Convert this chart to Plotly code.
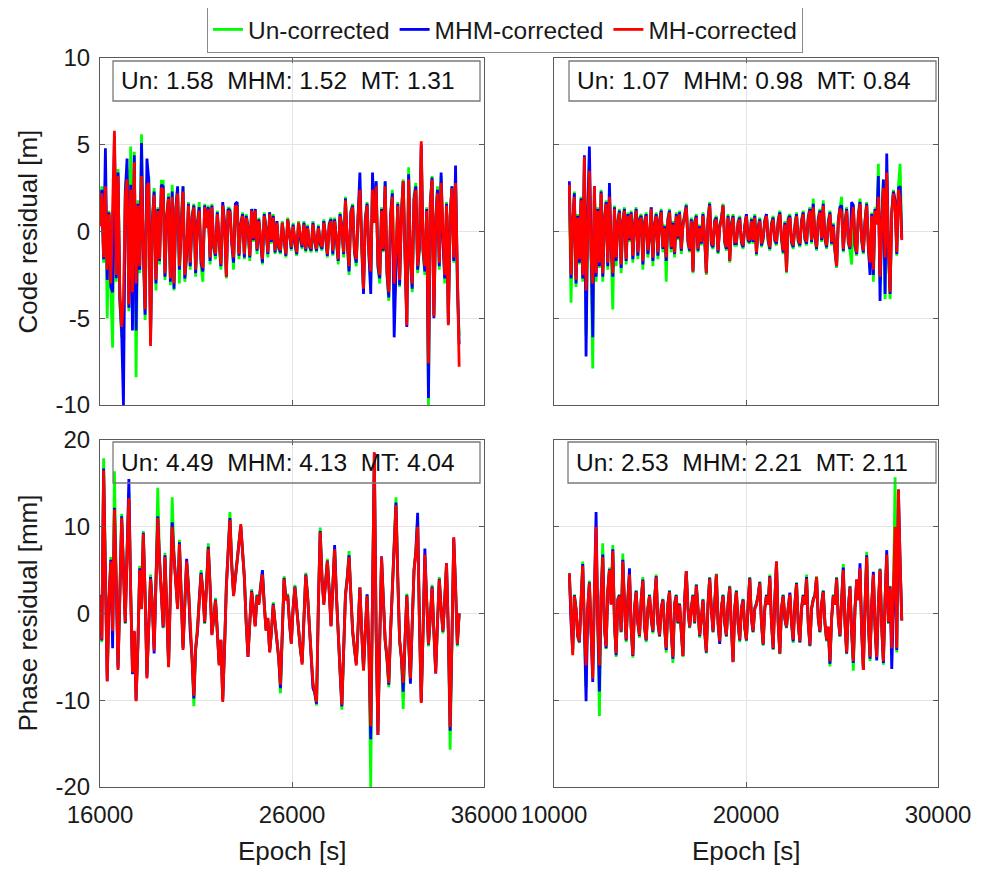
import numpy as np
import plotly.graph_objects as go

# ---------------- data ----------------
series_names = ["Un-corrected", "MHM-corrected", "MH-corrected"]
series_colors = ["#00ff00", "#0000ff", "#ff0000"]

# epoch sampling of the two arcs [s]
left_start, left_step = 16000, 94
right_start, right_step = 10800, 87
n_pts = 200

# --- code residual, left arc [m]
code_left_un = [
    0.4, 2.6, -1.8, 3.0, -5.0, 1.2, -3.4, -6.7, 5.3, -2.9, 3.6, -4.2, -6.0, -6.0, 2.3, 3.6, -4.6, 4.9, -4.0, 4.6,
    -8.4, 1.8, -2.4, 5.6, -1.2, -5.1, 3.0, 3.2, -6.2, 0.6, 2.5, -3.4, 1.4, -1.9, 2.9, 2.9, -2.8, 1.0, 2.2, -3.1,
    2.7, -3.4, 1.4, 2.5, -3.0, 0.8, 2.6, -2.9, -1.5, 1.7, -2.2, 0.9, 1.6, -2.6, 0.5, 1.7, -2.0, -2.9, 1.6, 0.3,
    1.5, -1.9, 1.6, -1.0, -1.6, 1.2, -0.7, -2.2, 1.5, 0.6, -2.7, 1.4, 1.3, -0.8, -2.2, 1.6, 1.5, -1.6, 0.5, 1.1,
    -1.6, 1.0, 0.3, -1.7, 1.3, -0.6, 1.3, -1.3, 0.8, -0.5, -1.9, 1.1, 0.2, -1.5, 1.1, -0.7, 1.0, -1.3, 0.6, -1.0,
    -1.3, 0.6, -0.5, -1.5, 0.8, -0.3, -1.1, 0.5, -0.8, -1.4, 0.6, -0.5, -1.0, 0.6, -1.2, 0.4, -0.9, -1.2, 0.6, -0.7,
    -1.2, 0.4, -0.8, -1.1, 0.7, -0.4, -1.5, 0.5, 0.8, -1.4, 0.8, -0.6, -1.9, 1.1, 0.3, -1.5, 2.0, -0.7, -2.5, 1.2,
    1.6, -1.3, -2.0, 1.0, 2.5, -0.9, -3.4, 0.8, 1.7, -1.5, -3.0, 2.6, 0.7, 2.9, -2.1, -3.0, 1.4, -1.2, 2.9, -2.5,
    -4.0, 1.0, 2.4, -4.5, -1.5, 1.7, -3.2, 1.1, 3.0, -1.7, -5.2, 3.7, -1.7, -3.5, 2.1, 2.8, -2.4, -1.0, 4.8, -1.2,
    -2.5, 1.4, -10.0, 1.7, 3.2, -4.8, 0.8, 2.6, -2.2, 3.2, -0.7, -3.0, 1.7, -5.2, 1.0, 2.6, -1.8, 3.0, -3.5, -6.0]
code_left_mhm = [
    0.4, 2.4, -1.6, 4.8, -2.8, 1.1, -3.2, -3.5, 5.5, -2.7, 3.4, -3.9, -5.8, -10.0, 2.2, 4.2, -4.4, 2.7, -5.7, 4.4,
    -5.7, 1.6, -2.2, 5.1, -1.1, -4.8, 4.2, 3.0, -6.4, 0.6, 2.3, -3.0, 1.3, -1.7, 2.7, 2.6, -2.6, 0.9, 2.0, -2.9,
    2.3, -3.3, 1.3, 2.6, -2.2, 0.7, 2.6, -2.7, -1.3, 1.6, -2.0, 0.8, 1.5, -2.4, 0.5, 1.4, -1.8, -2.3, 1.5, 0.3,
    1.4, -1.7, 1.5, -0.9, -1.4, 1.1, -0.6, -2.0, 1.7, 0.5, -2.6, 1.3, 1.2, -0.7, -1.8, 1.6, 1.7, -1.4, 0.4, 1.0,
    -1.5, 0.9, 0.3, -1.5, 1.3, -0.5, 1.3, -1.1, 0.7, -0.4, -1.8, 1.0, 0.2, -1.3, 1.1, -0.6, 0.9, -1.2, 0.6, -0.9,
    -1.2, 0.5, -0.5, -1.4, 0.7, -0.3, -1.0, 0.4, -0.7, -1.3, 0.5, -0.4, -0.9, 0.5, -1.1, 0.3, -0.8, -1.1, 0.5, -0.6,
    -1.1, 0.3, -0.7, -1.0, 0.6, -0.3, -1.4, 0.4, 0.7, -1.3, 0.7, -0.5, -1.7, 1.0, 0.3, -1.3, 1.9, -0.6, -2.3, 1.1,
    1.5, -1.2, -1.8, 0.9, 3.4, -0.8, -3.6, 0.7, 1.6, -1.3, -3.6, 3.4, 0.6, 2.9, -2.0, -2.7, 1.3, -1.1, 2.9, -2.4,
    -3.8, 0.9, 2.2, -6.1, -1.4, 1.6, -3.1, 1.0, 2.9, -1.5, -5.5, 3.3, -1.6, -3.3, 1.9, 2.6, -2.2, -0.9, 5.0, -1.1,
    -2.3, 1.3, -9.6, 1.6, 3.1, -5.0, 0.7, 2.4, -2.0, 3.4, -0.6, -2.7, 1.6, -5.3, 0.9, 2.6, -1.7, 3.8, -2.8, -6.5]
code_left_mh = [
    0.3, 2.2, -1.5, 2.6, -2.2, 1.0, -3.0, 1.8, 5.8, -2.5, 3.2, -3.6, -5.5, -4.0, 2.0, 3.0, -4.2, 2.4, -3.5, 4.0,
    -3.0, 1.5, -2.0, 3.2, -1.0, -4.5, 2.6, 2.8, -6.6, 0.5, 2.1, -2.8, 1.2, -1.6, 2.5, 2.4, -2.4, 0.8, 1.9, -2.7,
    2.0, -3.0, 1.2, 2.2, -2.0, 0.6, 2.3, -2.5, -1.2, 1.5, -1.8, 0.7, 1.4, -2.2, 0.4, 1.2, -1.6, -2.1, 1.4, 0.2,
    1.3, -1.5, 1.4, -0.8, -1.3, 1.0, -0.5, -1.9, 1.5, 0.4, -2.6, 1.2, 1.1, -0.6, -1.5, 1.5, 1.4, -1.3, 0.3, 0.9,
    -1.3, 0.8, 0.2, -1.4, 1.2, -0.4, 1.2, -1.0, 0.6, -0.3, -1.6, 0.9, 0.1, -1.2, 1.0, -0.5, 0.8, -1.1, 0.5, -0.8,
    -1.1, 0.5, -0.4, -1.3, 0.7, -0.2, -0.9, 0.3, -0.6, -1.2, 0.5, -0.3, -0.8, 0.4, -1.0, 0.2, -0.7, -1.0, 0.4, -0.5,
    -1.0, 0.2, -0.6, -0.9, 0.5, -0.2, -1.3, 0.3, 0.6, -1.1, 0.6, -0.4, -1.6, 0.9, 0.2, -1.2, 1.8, -0.5, -2.0, 1.0,
    1.4, -1.1, -1.6, 0.8, 2.4, -0.7, -3.3, 0.6, 1.5, -1.2, -2.3, 2.4, 0.5, 2.6, -1.8, -2.5, 1.2, -1.0, 2.6, -2.2,
    -3.5, 0.8, 2.0, -3.0, -1.2, 1.5, -2.8, 0.9, 2.9, -1.4, -5.4, 3.0, -1.5, -3.0, 1.8, 2.4, -2.0, -0.8, 5.2, -1.0,
    -2.0, 1.2, -7.6, 1.5, 3.0, -4.9, 0.6, 2.2, -1.8, 2.8, -0.5, -2.5, 1.5, -5.4, 0.8, 2.5, -1.5, 2.8, -2.2, -7.8]

# --- code residual, right arc [m]
code_right_un = [
    2.0, -4.1, 0.5, 2.3, -3.2, 1.0, -1.9, 2.0, -2.9, 4.2, -6.0, 1.2, 4.0, -1.8, -7.9, 2.6, -2.9, 1.4, -2.1, 2.4,
    -2.9, 0.8, 1.8, -2.2, 2.2, -1.0, -4.5, 1.5, -2.0, 0.6, 1.3, -2.4, 0.7, 1.4, -1.9, 1.1, -0.6, 1.2, -1.8, 0.5,
    1.4, -1.6, 0.8, 1.0, -2.2, 0.6, 1.1, -1.5, -0.4, 1.4, -2.0, 0.5, 1.1, -1.6, 0.7, 1.3, -1.2, 0.4, -2.9, 0.8,
    1.3, -1.2, 0.6, -1.5, 1.1, -0.5, 1.2, -1.3, 0.5, 1.0, 1.6, -0.7, -1.2, 0.8, -2.4, 0.6, 1.0, -1.2, 0.4, -0.8,
    1.1, -0.5, -2.5, 0.8, 1.7, -0.8, -1.0, 0.7, 0.9, -1.3, 0.4, 0.8, 1.6, -0.7, -1.1, 1.0, -1.8, 0.5, 1.0, -0.8,
    -0.8, 0.6, 0.9, -0.7, -1.0, 0.4, 1.0, -0.6, -0.7, 0.8, -0.7, 1.0, -1.4, 0.3, 0.8, -0.9, -0.5, 0.7, 1.0, -0.6,
    -1.1, 0.5, 0.9, -0.6, -0.8, 0.7, 1.2, -0.5, -1.3, 0.6, -2.4, 0.8, 1.0, -0.7, -1.0, 0.4, 1.1, -0.6, -0.9, 0.7,
    1.2, -0.5, -0.8, 0.9, 1.4, -0.7, 1.9, -0.4, -1.1, 0.8, 1.3, -0.6, 1.8, -0.5, -1.0, 0.6, 1.2, -0.8, 0.5, -1.2,
    -2.1, 0.7, 1.5, 2.0, -1.2, 0.5, 1.4, -0.7, -1.1, -1.9, 1.6, -0.9, -1.4, 1.0, 1.9, -0.6, -1.3, 0.7, 1.7, -1.0,
    -2.1, 1.1, -2.9, 1.4, 0.6, 3.9, -3.0, 0.7, 3.0, -3.9, 3.2, -1.1, -3.9, 1.2, 2.4, 1.7, -1.4, 2.6, 3.9, -0.3]
code_right_mhm = [
    2.9, -2.7, 0.5, 2.2, -3.0, 0.9, -1.8, 1.9, -2.7, 4.4, -7.2, 1.1, 4.9, -1.7, -6.1, 2.6, -2.6, 1.3, -2.0, 2.3,
    -2.6, 0.7, 1.7, -2.0, 2.8, -0.9, -2.6, 1.4, -1.7, 0.5, 1.2, -2.1, 0.6, 1.3, -1.7, 1.0, -0.5, 1.1, -1.6, 0.4,
    1.3, -1.4, 0.7, 0.9, -1.9, 0.5, 1.0, -1.3, -0.3, 1.4, -1.7, 0.4, 1.0, -1.4, 0.6, 1.2, -1.0, 0.3, -1.7, 0.7,
    1.2, -1.0, 0.5, -1.3, 1.0, -0.4, 1.1, -1.1, 0.4, 0.9, 1.5, -0.6, -1.1, 0.7, -2.3, 0.5, 0.9, -1.1, 0.3, -0.7,
    1.0, -0.4, -2.4, 0.7, 1.6, -0.7, -0.9, 0.6, 0.8, -1.2, 0.3, 0.7, 1.5, -0.6, -1.0, 0.9, -1.7, 0.4, 0.9, -0.7,
    -0.7, 0.5, 0.8, -0.6, -0.9, 0.3, 1.0, -0.5, -0.6, 0.7, -0.6, 0.9, -1.3, 0.2, 0.7, -0.8, -0.4, 0.6, 1.0, -0.5,
    -1.0, 0.4, 0.8, -0.5, -0.7, 0.6, 1.1, -0.4, -1.2, 0.5, -2.3, 0.7, 0.9, -0.6, -0.9, 0.3, 1.0, -0.5, -0.8, 0.6,
    1.1, -0.4, -0.7, 0.8, 1.3, -0.6, 1.6, -0.3, -1.0, 0.7, 1.2, -0.5, 1.6, -0.4, -0.9, 0.5, 1.1, -0.7, 0.4, -1.1,
    -2.0, 0.6, 1.4, 1.5, -1.1, 0.4, 1.3, -0.6, -1.0, 1.7, 1.5, -0.8, -1.3, 0.9, 1.7, -0.5, -1.2, 0.6, 1.6, -0.9,
    -2.5, 1.0, -2.5, 1.3, 0.5, 3.2, -4.0, 0.6, 3.0, -3.6, 4.5, -1.0, -3.6, 1.1, 2.3, 1.8, -1.3, 2.5, 2.6, -0.4]
code_right_mh = [
    2.7, -2.5, 0.4, 2.0, -2.8, 0.8, -1.6, 1.8, -2.5, 4.3, -3.4, 1.0, 3.5, -1.5, -3.0, 2.6, -2.4, 1.2, -1.8, 2.2,
    -2.4, 0.6, 1.6, -1.8, 2.0, -0.8, -2.4, 1.3, -1.5, 0.4, 1.1, -1.9, 0.5, 1.2, -1.6, 0.9, -0.4, 1.0, -1.4, 0.3,
    1.2, -1.2, 0.6, 0.8, -1.7, 0.4, 0.9, -1.1, -0.2, 1.3, -1.5, 0.3, 0.9, -1.2, 0.5, 1.1, -0.9, 0.2, -1.5, 0.6,
    1.1, -0.9, 0.4, -1.2, 0.9, -0.3, 1.0, -1.0, 0.3, 0.8, 1.4, -0.5, -1.0, 0.6, -2.3, 0.4, 0.8, -1.0, 0.2, -0.6,
    0.9, -0.3, -2.4, 0.6, 1.5, -0.6, -0.8, 0.5, 0.7, -1.1, 0.2, 0.6, 1.5, -0.5, -0.9, 0.8, -1.7, 0.3, 0.8, -0.6,
    -0.6, 0.4, 0.7, -0.5, -0.8, 0.2, 0.9, -0.4, -0.5, 0.6, -0.5, 0.8, -1.2, 0.1, 0.6, -0.7, -0.3, 0.5, 0.9, -0.4,
    -0.9, 0.3, 0.7, -0.4, -0.6, 0.5, 1.0, -0.3, -1.1, 0.4, -2.3, 0.6, 0.8, -0.5, -0.8, 0.2, 0.9, -0.4, -0.7, 0.5,
    1.0, -0.3, -0.6, 0.7, 1.2, -0.5, 1.4, -0.2, -0.9, 0.6, 1.1, -0.4, 1.5, -0.3, -0.8, 0.4, 1.0, -0.6, 0.3, -1.0,
    -2.0, 0.5, 1.3, 1.1, -1.0, 0.3, 1.2, -0.5, -0.9, 0.6, 1.4, -0.7, -1.2, 0.8, 1.6, -0.4, -1.1, 0.5, 1.5, -0.8,
    -1.8, 0.9, -2.2, 1.2, 0.4, 2.0, -2.6, 0.5, 2.5, -1.5, 3.4, -0.9, -3.5, 1.0, 2.2, 1.5, -1.2, 2.4, 1.9, -0.5]

# --- phase residual, left arc [mm]
phase_left_un = [
    2.2, -3.3, 17.9, 4.3, -7.0, 1.7, 6.5, -2.3, 16.4, 3.8, -6.0, 2.2, 11.5, 5.3, -1.2, 7.3, 14.0, 2.8, -6.5, -2.2,
    -9.8, -3.8, 5.5, 0.7, 9.5, 2.3, -7.0, -1.7, 4.5, 1.2, -3.8, 3.8, 14.5, 6.3, 2.3, -1.7, 7.0, 1.2, -6.0, 2.8,
    13.4, 6.8, 3.3, 0.7, 8.5, 2.3, -3.8, 1.2, 6.0, 3.3, -2.2, -5.3, -10.7, -4.3, -1.8, 1.7, 5.0, 2.8, -1.2, 3.3,
    8.1, 3.3, -2.3, -0.7, 1.8, -2.2, -5.6, -3.2, -9.8, -4.2, 3.3, 7.3, 11.7, 5.8, 2.3, 4.3, 6.8, 8.3, 10.0, 7.3,
    4.3, -1.2, -4.6, -1.2, 2.8, 0.7, -1.3, 2.2, 1.2, 3.3, 4.8, 1.2, -1.8, -0.7, -4.3, -2.2, 1.3, -1.2, -3.2, -5.3,
    -9.2, -2.2, 4.3, 1.7, 2.3, -1.2, -3.3, 0.7, 3.3, 0.7, -2.3, -4.2, -5.5, -1.2, 4.7, 2.2, -1.2, -4.7, -8.3, -9.3,
    -10.6, 1.2, 9.9, 4.3, 1.3, 3.8, 6.3, 2.8, -1.3, 3.3, 7.6, 2.2, -3.3, -6.8, -11.1, -3.3, 2.3, 4.3, 7.2, 2.3,
    -2.2, -4.3, -5.6, -1.7, 3.0, -2.2, -6.3, -2.2, 2.2, -4.3, -20.0, 2.2, 18.0, -2.2, -13.5, -3.3, 6.3, 1.7, -3.3, -5.3,
    -8.5, -2.2, 3.3, 7.3, 13.4, 4.3, -3.3, -5.3, -11.0, -3.3, 2.3, -3.3, -7.8, -1.2, 5.0, 7.3, 11.0, -1.2, -10.0, -2.2,
    6.0, 1.7, -3.8, -0.7, 3.3, -2.2, -6.5, -1.2, 4.2, 0.7, -2.3, 1.7, 5.5, -2.2, -15.7, -3.3, 8.5, 3.3, -3.8, 0.0]
phase_left_mhm = [
    2.1, -3.1, 16.7, 4.1, -7.8, 1.6, 6.2, -4.0, 12.2, 3.6, -6.3, 2.1, 11.2, 5.1, -1.1, 7.1, 15.5, 2.6, -7.0, -2.1,
    -10.0, -3.6, 5.2, 0.6, 9.3, 2.1, -7.3, -1.6, 4.2, 1.1, -4.6, 3.6, 11.2, 6.1, 2.1, -1.6, 6.7, 1.1, -6.1, 2.6,
    10.5, 6.6, 3.1, 0.6, 8.2, 2.1, -4.0, 1.1, 6.3, 3.1, -2.1, -5.1, -9.8, -4.1, -2.1, 1.6, 4.7, 2.6, -1.1, 3.1,
    7.7, 3.1, -2.4, -0.6, 1.6, -2.1, -5.8, -3.1, -10.0, -4.1, 3.1, 7.1, 11.0, 5.6, 2.1, 4.1, 6.6, 8.1, 10.1, 7.1,
    4.1, -1.1, -5.0, -1.1, 2.6, 0.6, -1.4, 2.1, 1.1, 3.1, 5.0, 1.1, -1.9, -0.6, -4.4, -2.1, 1.1, -1.1, -3.1, -5.1,
    -8.6, -2.1, 4.1, 1.6, 2.1, -1.1, -3.4, 0.6, 3.1, 0.6, -2.1, -4.1, -5.7, -1.1, 4.5, 2.1, -1.1, -4.6, -8.6, -9.1,
    -10.4, 1.1, 9.5, 4.1, 1.1, 3.6, 6.1, 2.6, -1.4, 3.1, 7.9, 2.1, -3.1, -6.6, -10.7, -3.1, 2.1, 4.1, 6.7, 2.1,
    -2.1, -4.1, -5.8, -1.6, 3.0, -2.1, -6.5, -2.1, 2.2, -4.1, -14.5, 2.1, 18.5, -2.1, -14.0, -3.1, 6.6, 1.6, -3.1, -5.1,
    -8.2, -2.1, 3.1, 7.1, 12.8, 4.1, -3.1, -5.1, -9.0, -3.1, 2.1, -3.1, -8.1, -1.1, 5.0, 7.1, 11.6, -1.1, -10.2, -2.1,
    7.5, 1.6, -3.6, -0.6, 3.1, -2.1, -6.9, -1.1, 4.0, 0.6, -2.1, 1.6, 5.8, -2.1, -13.5, -3.1, 8.7, 3.1, -3.6, 0.0]
phase_left_mh = [
    2.0, -3.0, 16.5, 4.0, -7.8, 1.5, 6.0, -2.0, 12.0, 3.5, -6.5, 2.0, 11.0, 5.0, -1.0, 7.0, 13.3, 2.5, -6.8, -2.0,
    -10.1, -3.5, 5.0, 0.5, 9.2, 2.0, -7.5, -1.5, 4.0, 1.0, -4.3, 3.5, 11.0, 6.0, 2.0, -1.5, 6.5, 1.0, -6.2, 2.5,
    10.0, 6.5, 3.0, 0.5, 8.0, 2.0, -4.2, 1.0, 6.0, 3.0, -2.0, -5.0, -9.5, -4.0, -2.0, 1.5, 4.5, 2.5, -1.0, 3.0,
    7.5, 3.0, -2.5, -0.5, 1.5, -2.0, -6.0, -3.0, -10.2, -4.0, 3.0, 7.0, 10.8, 5.5, 2.0, 4.0, 6.5, 8.0, 10.3, 7.0,
    4.0, -1.0, -5.0, -1.0, 2.5, 0.5, -1.5, 2.0, 1.0, 3.0, 4.5, 1.0, -2.0, -0.5, -4.5, -2.0, 1.0, -1.0, -3.0, -5.0,
    -8.2, -2.0, 4.0, 1.5, 2.0, -1.0, -3.5, 0.5, 3.0, 0.5, -2.0, -4.0, -5.9, -1.0, 4.4, 2.0, -1.0, -4.5, -8.0, -9.0,
    -10.2, 1.0, 9.4, 4.0, 1.0, 3.5, 6.0, 2.5, -1.5, 3.0, 7.4, 2.0, -3.0, -6.5, -10.5, -3.0, 2.0, 4.0, 6.5, 2.0,
    -2.0, -4.0, -6.0, -1.5, 3.0, -2.0, -6.6, -2.0, 2.0, -4.0, -13.0, 2.0, 18.6, -2.0, -14.0, -3.0, 6.5, 1.5, -3.0, -5.0,
    -8.0, -2.0, 3.0, 7.0, 12.5, 4.0, -3.0, -5.0, -8.0, -3.0, 2.0, -3.0, -7.5, -1.0, 5.0, 7.0, 10.0, -1.0, -10.3, -2.0,
    6.8, 1.5, -3.5, -0.5, 3.0, -2.0, -6.9, -1.0, 3.9, 0.5, -2.0, 1.5, 5.8, -2.0, -13.1, -3.0, 8.8, 3.0, -3.5, 0.0]

# --- phase residual, right arc [mm]
phase_right_un = [
    4.7, -1.2, -4.6, 2.2, 0.6, -2.7, -3.4, 1.7, 6.0, -1.7, -8.5, 0.7, 3.8, -2.2, -6.0, 2.7, 8.5, -1.2, -11.8, 2.2,
    8.1, -1.7, -4.1, 2.7, 5.3, 1.2, 7.9, -1.2, -5.0, 1.7, 2.2, -2.2, 6.9, 1.2, -3.3, 1.7, 4.7, -1.7, -5.1, 0.7,
    2.7, -1.2, -2.8, 1.7, 4.2, -1.7, -3.3, 0.7, 2.2, -0.7, -2.3, 1.7, 4.5, -1.2, -2.7, 0.7, 1.7, -1.7, -4.5, 1.2,
    2.7, -2.2, -5.7, 1.2, 2.2, -1.2, 1.2, -2.2, -5.0, 1.7, 4.8, 0.7, -1.7, 0.7, 2.2, -1.2, 3.4, 0.7, -2.8, -0.7,
    1.7, -2.2, -4.6, 1.2, 4.2, 0.7, -2.2, 1.2, 4.6, -1.2, -3.4, 0.7, 2.2, -1.2, -2.7, 1.2, 3.2, -1.7, -5.5, 0.7,
    2.7, -1.2, -3.3, 0.7, 1.7, -1.7, -3.2, 1.2, 4.2, -0.7, -2.2, 0.7, 1.2, 2.2, 3.7, -1.2, -3.7, 0.7, 2.2, 1.2,
    4.5, -1.2, -4.2, 1.7, 5.8, -1.2, -4.7, 0.7, 2.2, -0.7, -1.7, 0.7, 2.3, -1.2, -3.4, 1.2, 3.6, -1.2, -3.4, 0.7,
    2.2, 1.2, 4.5, -1.2, -3.8, 0.7, 1.7, 2.2, 4.3, -0.7, -2.2, 1.2, 2.7, -1.2, -3.2, -1.7, -6.1, -0.7, 2.2, 1.2,
    4.2, -0.7, -2.7, 1.7, 5.7, -1.2, -4.7, 0.7, 3.2, -2.2, -6.6, 0.7, 3.7, 1.7, 5.0, -2.2, -6.4, 1.2, 7.1, -1.2,
    -5.5, 1.2, 4.6, -1.7, -5.0, 1.2, 5.2, -1.7, -5.9, 1.7, 6.6, -1.2, 3.2, -4.3, 2.2, 15.7, -4.5, 12.0, 6.2, -0.7]
phase_right_mhm = [
    4.6, -1.1, -4.2, 2.1, 0.5, -2.6, -3.3, 1.6, 5.7, -1.6, -10.1, 0.6, 3.6, -2.1, -7.9, 2.6, 11.7, -1.1, -9.0, 2.1,
    6.8, -1.6, -4.0, 2.6, 5.1, 1.1, 7.4, -1.1, -4.8, 1.6, 2.1, -2.1, 6.2, 1.1, -3.1, 1.6, 5.2, -1.6, -4.9, 0.6,
    2.6, -1.1, -2.6, 1.6, 3.9, -1.6, -3.1, 0.6, 2.1, -0.6, -2.1, 1.6, 4.3, -1.1, -2.6, 0.6, 1.6, -1.6, -4.2, 1.1,
    2.6, -2.1, -5.2, 1.1, 2.1, -1.1, 1.1, -2.1, -4.9, 1.6, 4.9, 0.6, -1.6, 0.6, 2.1, -1.1, 3.3, 0.6, -2.6, -0.6,
    1.6, -2.1, -4.5, 1.1, 4.1, 0.6, -2.1, 1.1, 4.5, -1.1, -3.5, 0.6, 2.1, -1.1, -2.6, 1.1, 3.1, -1.6, -5.6, 0.6,
    2.6, -1.1, -3.1, 0.6, 1.6, -1.6, -3.1, 1.1, 4.1, -0.6, -2.1, 0.6, 1.1, 2.1, 3.6, -1.1, -3.6, 0.6, 2.1, 1.1,
    4.3, -1.1, -4.1, 1.6, 6.0, -1.1, -4.6, 0.6, 2.1, -0.6, -1.6, 0.6, 2.4, -1.1, -3.2, 1.1, 3.5, -1.1, -3.3, 0.6,
    2.1, 1.1, 4.2, -1.1, -3.7, 0.6, 1.6, 2.1, 4.2, -0.6, -2.1, 1.1, 2.6, -1.1, -3.1, -1.6, -5.8, -0.6, 2.1, 1.1,
    4.1, -0.6, -2.6, 1.6, 5.3, -1.1, -4.6, 0.6, 3.1, -2.1, -5.7, 0.6, 3.9, 1.6, 5.8, -2.1, -6.5, 1.1, 6.7, -1.1,
    -5.2, 1.1, 4.8, -1.6, -5.4, 1.1, 5.1, -1.6, -5.7, 1.6, 7.3, -1.1, 3.1, -6.4, 2.1, 8.0, -4.2, 14.3, 6.1, -0.8]
phase_right_mh = [
    4.6, -1.0, -4.8, 2.0, 0.5, -2.5, -3.2, 1.5, 5.5, -1.5, -6.0, 0.5, 3.5, -2.0, -7.5, 2.5, 10.0, -1.0, -6.0, 2.0,
    6.5, -1.5, -3.8, 2.5, 5.0, 1.0, 7.2, -1.0, -4.6, 1.5, 2.0, -2.0, 6.0, 1.0, -3.0, 1.5, 4.5, -1.5, -4.8, 0.5,
    2.5, -1.0, -2.5, 1.5, 3.8, -1.5, -3.0, 0.5, 2.0, -0.5, -2.0, 1.5, 4.2, -1.0, -2.5, 0.5, 1.5, -1.5, -4.0, 1.0,
    2.5, -2.0, -5.0, 1.0, 2.0, -1.0, 1.0, -2.0, -4.9, 1.5, 4.9, 0.5, -1.5, 0.5, 2.0, -1.0, 3.2, 0.5, -2.5, -0.5,
    1.5, -2.0, -4.4, 1.0, 4.0, 0.5, -2.0, 1.0, 4.5, -1.0, -3.2, 0.5, 2.0, -1.0, -2.5, 1.0, 3.0, -1.5, -5.6, 0.5,
    2.5, -1.0, -3.0, 0.5, 1.5, -1.5, -3.0, 1.0, 4.0, -0.5, -2.0, 0.5, 1.0, 2.0, 3.5, -1.0, -3.5, 0.5, 2.0, 1.0,
    4.2, -1.0, -4.0, 1.5, 6.0, -1.0, -4.6, 0.5, 2.0, -0.5, -1.5, 0.5, 2.2, -1.0, -3.0, 1.0, 3.4, -1.0, -3.2, 0.5,
    2.0, 1.0, 4.0, -1.0, -3.6, 0.5, 1.5, 2.0, 4.2, -0.5, -2.0, 1.0, 2.5, -1.0, -3.0, -1.5, -5.5, -0.5, 2.0, 1.0,
    4.0, -0.5, -2.5, 1.5, 5.0, -1.0, -4.5, 0.5, 3.0, -2.0, -5.5, 0.5, 3.9, 1.5, 5.2, -2.0, -6.5, 1.0, 6.5, -1.0,
    -5.0, 1.0, 4.5, -1.5, -5.0, 1.0, 5.0, -1.5, -5.5, 1.5, 6.8, -1.0, 3.0, -4.0, 2.0, 10.0, -4.0, 14.3, 6.0, -0.8]

rms_labels = ["Un: 1.58\u00a0\u00a0MHM: 1.52\u00a0\u00a0MT: 1.31",
              "Un: 1.07\u00a0\u00a0MHM: 0.98\u00a0\u00a0MT: 0.84",
              "Un: 4.49\u00a0\u00a0MHM: 4.13\u00a0\u00a0MT: 4.04",
              "Un: 2.53\u00a0\u00a0MHM: 2.21\u00a0\u00a0MT: 2.11"]

x_ticks_left = [16000, 26000, 36000]
x_ticks_right = [10000, 20000, 30000]
y_ticks_code = [-10, -5, 0, 5, 10]
y_ticks_phase = [-20, -10, 0, 10, 20]
x_labels_left = ["16000", "26000", "36000"]
x_labels_right = ["10000", "20000", "30000"]
y_labels_code = ["-10", "-5", "0", "5", "10"]
y_labels_phase = ["-20", "-10", "0", "10", "20"]

epoch_left = left_start + left_step * np.arange(n_pts)
epoch_right = right_start + right_step * np.arange(n_pts)

# ---------------- figure ----------------
# the page body has an 8 px margin, so the figure is drawn 8 px in from the corner
OFF = 8
W, H = 988 - OFF, 872 - OFF
FONT = "Liberation Sans, Arial, sans-serif"
AX_COL = "#5a5a5a"
GRID_COL = "#e4e4e4"
TXT = "#1a1a1a"


def fx(p):
    return (p - OFF) / W


def fy(p):
    return 1 - (p - OFF) / H


panels = [
    dict(x=epoch_left, ys=[code_left_un, code_left_mhm, code_left_mh],
         dom_x=(100, 484), dom_y=(58, 405)),
    dict(x=epoch_right, ys=[code_right_un, code_right_mhm, code_right_mh],
         dom_x=(554, 938), dom_y=(58, 405)),
    dict(x=epoch_left, ys=[phase_left_un, phase_left_mhm, phase_left_mh],
         dom_x=(100, 484), dom_y=(440, 787)),
    dict(x=epoch_right, ys=[phase_right_un, phase_right_mhm, phase_right_mh],
         dom_x=(554, 938), dom_y=(440, 787)),
]

fig = go.Figure()
for k, p in enumerate(panels):
    ax = "" if k == 0 else str(k + 1)
    for s in range(3):
        fig.add_trace(go.Scatter(
            x=p["x"], y=p["ys"][s], mode="lines",
            name=series_names[s],
            line=dict(color=series_colors[s], width=2.8),
            showlegend=(k == 0),
            xaxis="x" + ax, yaxis="y" + ax,
        ))

common = dict(showline=True, linecolor=AX_COL, linewidth=1.2, mirror="ticks",
              ticks="inside", ticklen=5, tickwidth=1, tickcolor=AX_COL,
              showgrid=True, gridcolor=GRID_COL, gridwidth=1, zeroline=False,
              tickfont=dict(family=FONT, size=24, color=TXT))

layout = dict(
    width=W, height=H, margin=dict(l=0, r=0, t=0, b=0, autoexpand=False),
    paper_bgcolor="white", plot_bgcolor="white",
    font=dict(family=FONT, color=TXT),
    legend=dict(orientation="h", x=fx(505), xanchor="center", y=fy(6), yanchor="top",
                bordercolor="#8a8a8a", borderwidth=1, bgcolor="white",
                font=dict(family=FONT, size=24.5, color=TXT),
                itemwidth=30, tracegroupgap=0),
)

for k, p in enumerate(panels):
    ax = "" if k == 0 else str(k + 1)
    left = k in (0, 2)
    bottom = k in (2, 3)
    code = k in (0, 1)
    layout["xaxis" + ax] = dict(
        common, domain=[fx(p["dom_x"][0]), fx(p["dom_x"][1])],
        range=[16000, 36000] if left else [10000, 30000],
        tickvals=x_ticks_left if left else x_ticks_right,
        ticktext=x_labels_left if left else x_labels_right,
        showticklabels=bottom, ticklabelstandoff=6,
        anchor="y" + ax)
    layout["yaxis" + ax] = dict(
        common, domain=[fy(p["dom_y"][1]), fy(p["dom_y"][0])],
        range=[-10, 10] if code else [-20, 20],
        tickvals=y_ticks_code if code else y_ticks_phase,
        ticktext=y_labels_code if code else y_labels_phase,
        showticklabels=left, ticklabelstandoff=4,
        anchor="x" + ax)

fig.update_layout(**layout)

# RMS boxes
boxes = [(113, 61, 480, 101), (569, 61, 936, 101), (113, 442, 480, 483), (568, 442, 936, 483)]
for k, (x0, y0, x1, y1) in enumerate(boxes):
    fig.add_shape(type="rect", xref="paper", yref="paper",
                  x0=fx(x0), x1=fx(x1), y0=fy(y1), y1=fy(y0),
                  line=dict(color="#7a7a7a", width=1.3), fillcolor="rgba(0,0,0,0)",
                  layer="above")
    fig.add_annotation(xref="paper", yref="paper", x=fx(x0 + 6), y=fy((y0 + y1) / 2),
                       xanchor="left", yanchor="middle", showarrow=False,
                       text=rms_labels[k],
                       font=dict(family=FONT, size=24.5, color="#111111"))

# axis titles
fig.add_annotation(xref="paper", yref="paper", x=fx(27), y=fy(231.5), textangle=-90,
                   xanchor="center", yanchor="middle",
                   text="Code residual [m]", showarrow=False,
                   font=dict(family=FONT, size=26, color=TXT))
fig.add_annotation(xref="paper", yref="paper", x=fx(27), y=fy(613.5), textangle=-90,
                   xanchor="center", yanchor="middle",
                   text="Phase residual [mm]", showarrow=False,
                   font=dict(family=FONT, size=26, color=TXT))
for cx in (292, 746):
    fig.add_annotation(xref="paper", yref="paper", x=fx(cx), y=fy(851),
                       xanchor="center", yanchor="middle",
                       text="Epoch [s]", showarrow=False,
                       font=dict(family=FONT, size=26, color=TXT))

fig.write_html("out.html")
